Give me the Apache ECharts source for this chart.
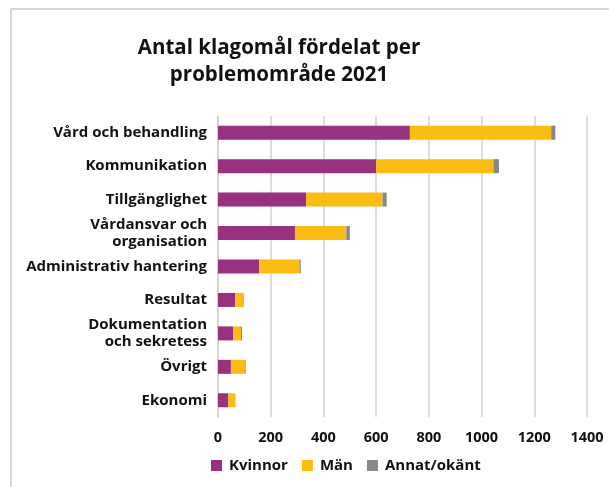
<!DOCTYPE html>
<html>
<head>
<meta charset="utf-8">
<script src="https://cdn.jsdelivr.net/npm/echarts@6/dist/echarts.min.js"></script>
<style>
  html, body { margin: 0; padding: 0; background: #fff; }
  #chart { width: 609px; height: 487px; }
</style>
</head>
<body>
<div id="chart"></div>
<script>
var categories = ['Vård och behandling', 'Kommunikation', 'Tillgänglighet', 'Vårdansvar och\norganisation',
  'Administrativ hantering', 'Resultat', 'Dokumentation\noch sekretess', 'Övrigt', 'Ekonomi'];
var kvinnor = [728, 600, 335, 292, 156, 65, 57, 49, 39];
var man = [536, 445, 289, 195, 153, 33, 30, 55, 26];
var annat = [16, 21, 16, 13, 5, 1, 4, 2, 1];

var font = '"Open Sans", "Noto Sans", sans-serif';
var chart = echarts.init(document.getElementById('chart'));
chart.setOption({
  animation: false,
  color: ['#993080', '#fbbd12', '#888888'],
  title: {
    text: 'Antal klagomål fördelat per\nproblemområde 2021',
    left: 274, top: 30, textAlign: 'center',
    textStyle: { fontFamily: font, fontWeight: 'bold', fontSize: 20.5, color: '#111', lineHeight: 27 }
  },
  graphic: [{
    type: 'rect', shape: { x: 11, y: 9, width: 620, height: 500 },
    style: { fill: 'none', stroke: '#c9c9c9', lineWidth: 1.5 }, silent: true
  }],
  legend: {
    bottom: 9, left: 206, itemWidth: 11, itemHeight: 11, itemGap: 14,
    icon: 'rect',
    textStyle: { fontFamily: font, fontWeight: 'bold', fontSize: 15, color: '#111', padding: [0, 0, 0, 2] },
    data: ['Kvinnor', 'Män', 'Annat/okänt']
  },
  grid: { left: 218, right: 22, top: 116, bottom: 70 },
  xAxis: {
    type: 'value', min: 0, max: 1400, interval: 200,
    axisLine: { show: false }, axisTick: { show: false },
    splitLine: { lineStyle: { color: '#d2d2d2', width: 1.5 } },
    axisLabel: { margin: 13, fontFamily: font, fontWeight: 'bold', fontSize: 14.5, color: '#111',
      formatter: function (v) { return String(v); } }
  },
  yAxis: {
    type: 'category', inverse: true, data: categories,
    axisLine: { lineStyle: { color: '#d2d2d2', width: 1.5 } }, axisTick: { show: false },
    axisLabel: { margin: 11, fontFamily: font, fontWeight: 'bold', fontSize: 15, color: '#111', lineHeight: 17, align: 'right' }
  },
  series: [
    { name: 'Kvinnor', type: 'bar', stack: 'a', barWidth: 14, data: kvinnor },
    { name: 'Män', type: 'bar', stack: 'a', barWidth: 14, data: man },
    { name: 'Annat/okänt', type: 'bar', stack: 'a', barWidth: 14, data: annat }
  ]
});
</script>
</body>
</html>
